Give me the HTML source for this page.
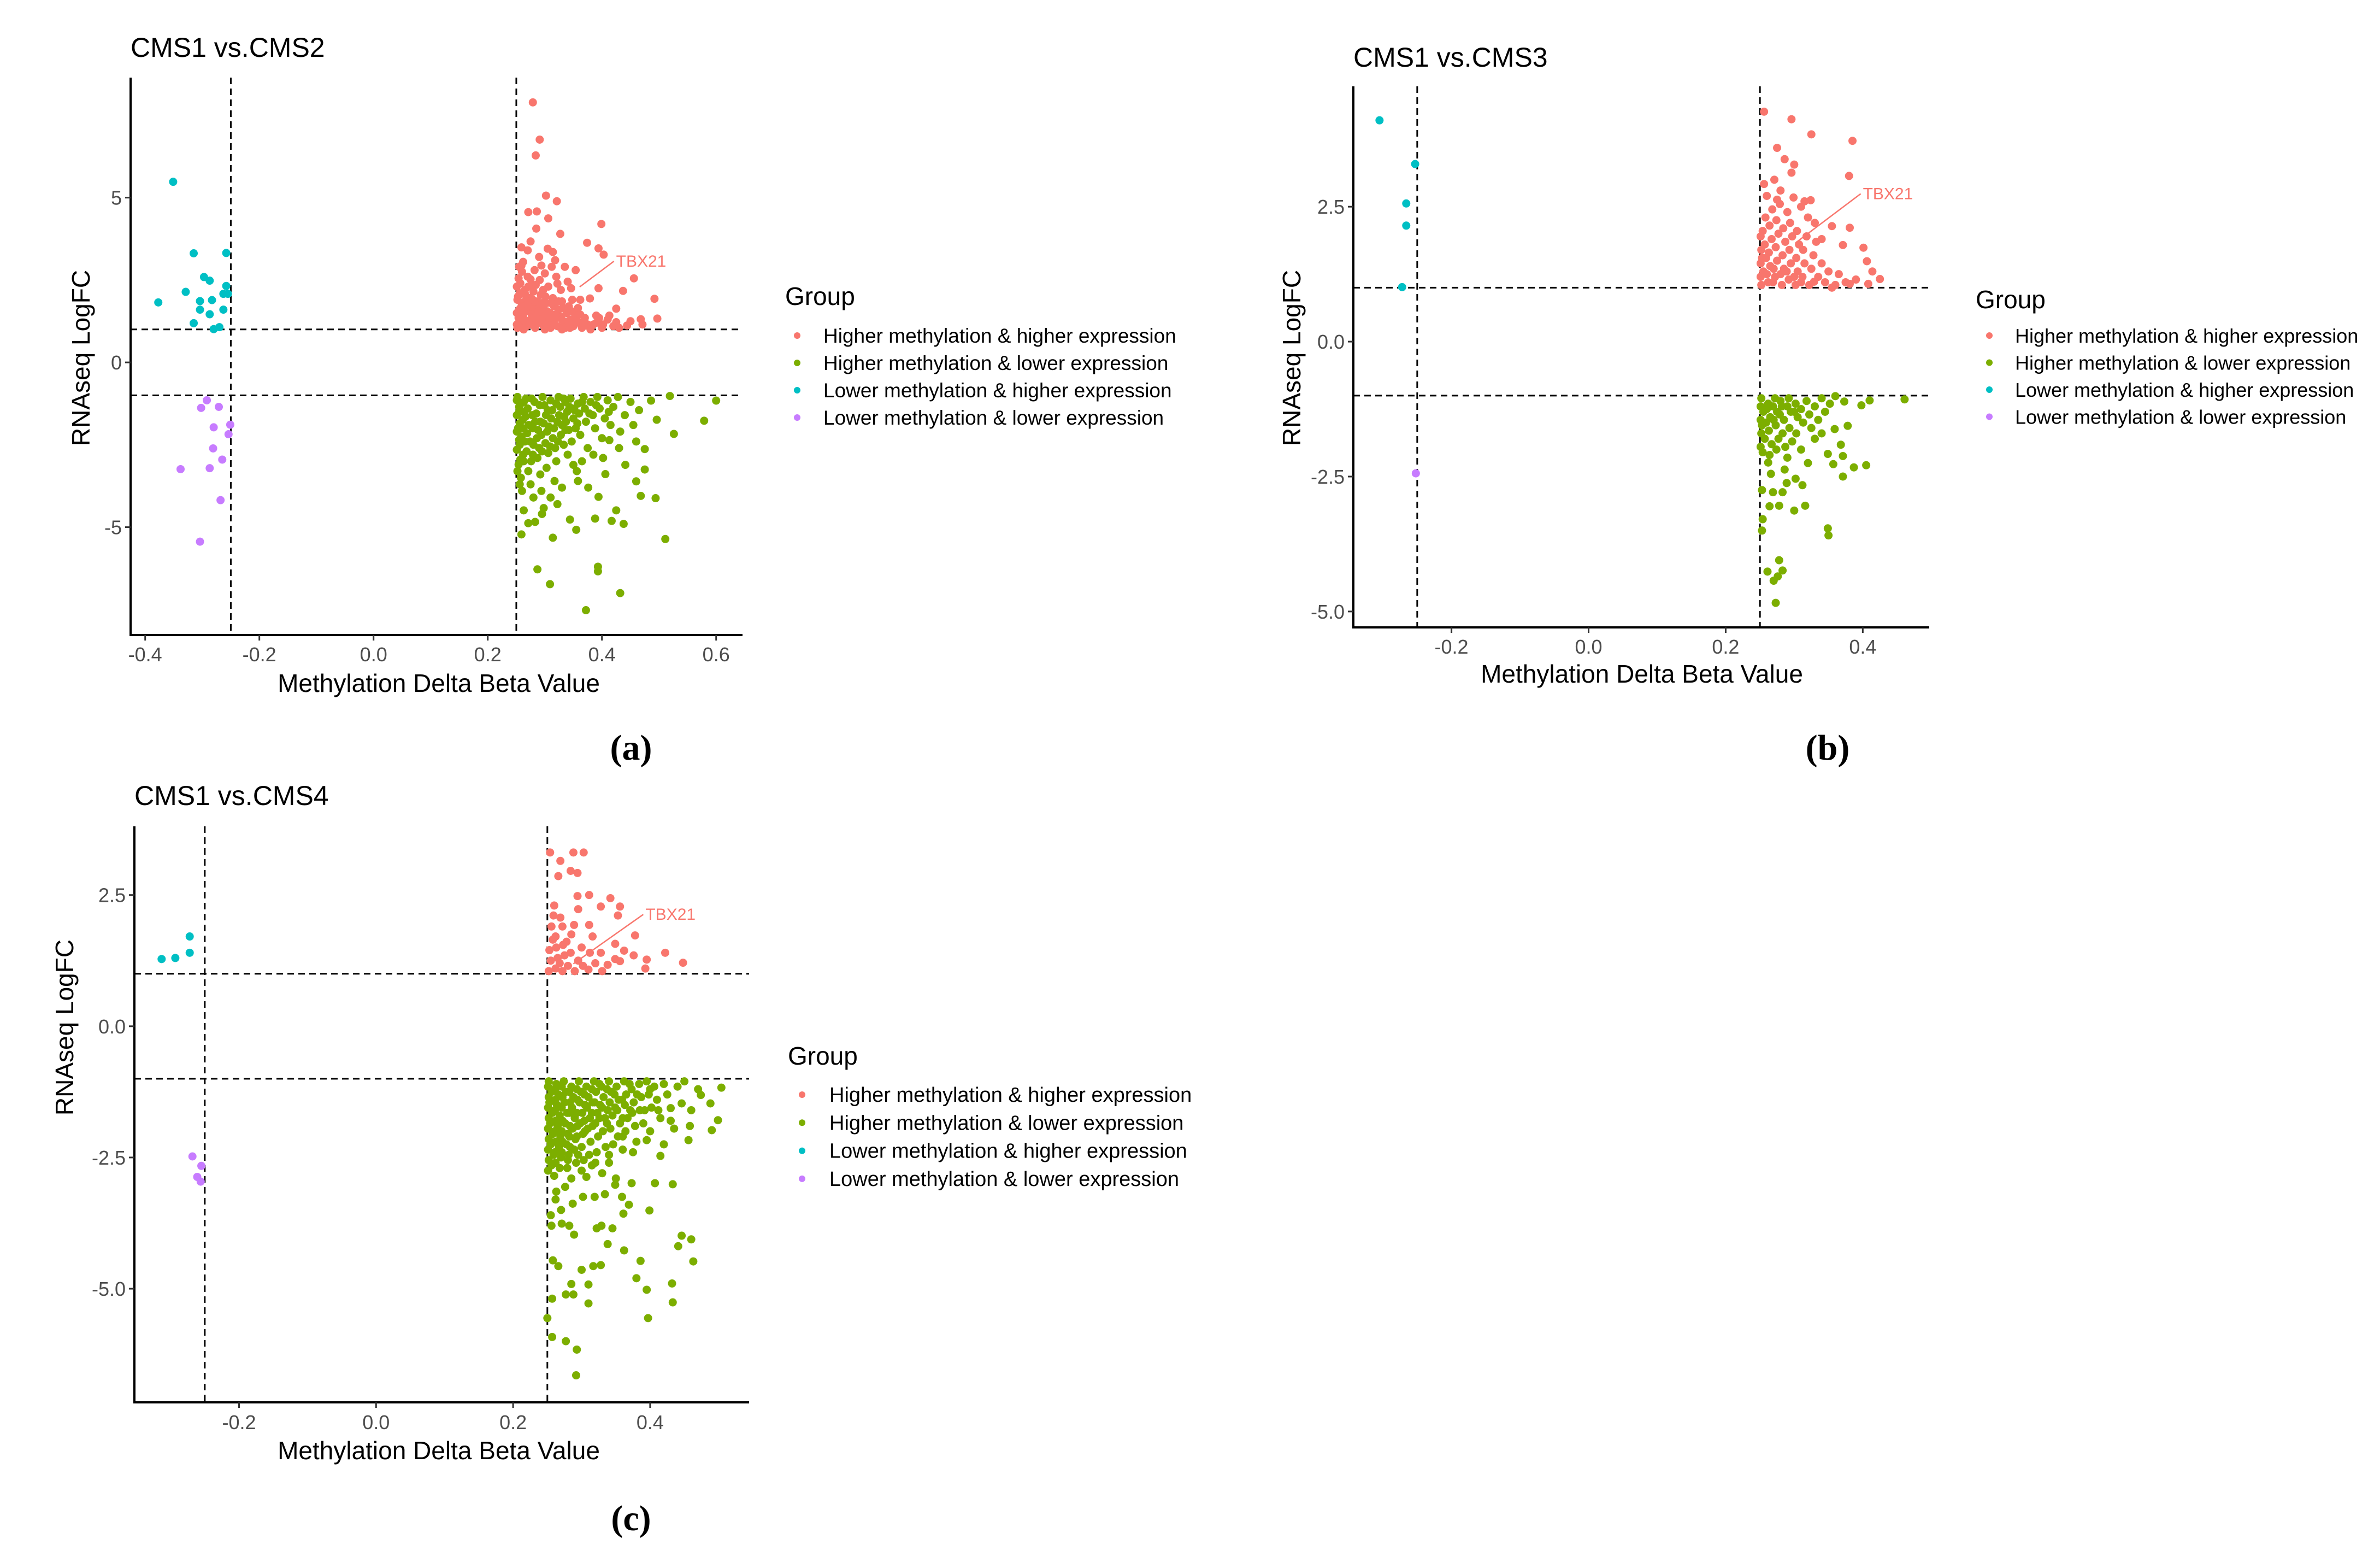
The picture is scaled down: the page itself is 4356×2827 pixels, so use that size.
<!DOCTYPE html>
<html><head><meta charset="utf-8"><style>
html,body{margin:0;padding:0;background:#fff;}
svg{display:block;font-family:"Liberation Sans",sans-serif;}
</style></head><body>
<svg id="fig" width="4356" height="2827" viewBox="0 0 4356 2827" xmlns="http://www.w3.org/2000/svg">
<rect width="4356" height="2827" fill="#fff"/>
<g id="panelA"></g>
<g id="panelB"></g>
<g id="panelC"></g>
<text x="1155" y="1390" font-family="Liberation Serif,serif" font-weight="bold" font-size="66" text-anchor="middle">(a)</text>
<text x="3345" y="1390" font-family="Liberation Serif,serif" font-weight="bold" font-size="66" text-anchor="middle">(b)</text>
<text x="1155" y="2800" font-family="Liberation Serif,serif" font-weight="bold" font-size="66" text-anchor="middle">(c)</text>
</svg>
<script>
// ---------- data ----------
const groupNames = ["Higher methylation & higher expression","Higher methylation & lower expression","Lower methylation & higher expression","Lower methylation & lower expression"];
const groupColors = ["#F8766D","#7CAE00","#00BFC4","#C77CFF"];

const aXTicks = [-0.4,-0.2,0.0,0.2,0.4,0.6];
const aYTicks = [-5,0,5];
const aYTickLabels = ["-5","0","5"];
const aCyan = [[-0.351,5.48],[-0.315,3.31],[-0.258,3.32],[-0.297,2.59],[-0.287,2.48],[-0.329,2.14],[-0.377,1.82],[-0.304,1.86],[-0.283,1.89],[-0.258,2.32],[-0.263,2.08],[-0.304,1.6],[-0.287,1.46],[-0.263,1.6],[-0.315,1.19],[-0.28,1.01],[-0.27,1.07],[-0.255,2.08]];
const aPurple = [[-0.292,-1.15],[-0.302,-1.38],[-0.271,-1.35],[-0.28,-1.97],[-0.251,-1.89],[-0.254,-2.18],[-0.281,-2.61],[-0.265,-2.95],[-0.338,-3.24],[-0.287,-3.21],[-0.268,-4.18],[-0.304,-5.44]];
const aRed = [[0.279,7.89],[0.291,6.76],[0.284,6.28],[0.302,5.06],[0.321,4.89],[0.271,4.56],[0.286,4.58],[0.306,4.37],[0.399,4.2],[0.285,4.06],[0.327,3.9],[0.275,3.67],[0.374,3.63],[0.394,3.46],[0.403,3.27],[0.259,3.49],[0.314,3.35],[0.259,2.94],[0.294,2.94],[0.354,2.8],[0.456,2.55],[0.275,2.52],[0.322,2.39],[0.346,2.25],[0.394,2.25],[0.437,2.17],[0.492,1.93],[0.362,1.9],[0.379,1.94],[0.425,1.63],[0.39,1.42],[0.468,1.31],[0.497,1.33],[0.444,1.12],[0.471,1.15],[0.402,1.15],[0.425,1.22],[0.378,1.08],[0.413,1.42],
[0.252,1.05],[0.258,1.2],[0.262,1.4],[0.255,1.6],[0.26,1.8],[0.253,2.0],[0.265,2.2],[0.257,2.4],[0.27,2.6],[0.268,1.1],[0.275,1.3],[0.272,1.55],[0.278,1.75],[0.274,1.95],[0.28,2.15],[0.276,2.35],[0.283,1.05],[0.288,1.25],[0.285,1.45],[0.29,1.65],[0.287,1.85],[0.293,2.05],[0.291,2.5],[0.296,1.15],[0.3,1.35],[0.298,1.6],[0.303,1.8],[0.301,2.0],[0.306,2.3],[0.31,1.05],[0.313,1.25],[0.309,1.5],[0.316,1.7],[0.314,1.95],[0.32,2.6],[0.322,1.1],[0.326,1.4],[0.324,1.6],[0.33,1.85],[0.328,2.2],[0.334,1.2],[0.338,1.5],[0.336,1.05],[0.342,1.7],[0.345,1.3],[0.35,1.1],[0.348,1.9],[0.355,1.45],[0.36,1.2],[0.365,1.05],[0.358,1.65],[0.37,1.35],[0.375,1.15],[0.263,1.0],[0.3,1.0],[0.33,1.0],[0.38,1.0],[0.39,1.2],[0.4,1.05],[0.41,1.3],[0.42,1.1],[0.255,2.9],[0.262,3.05],[0.282,2.8],[0.3,2.7],[0.29,3.2],[0.305,3.45],[0.318,3.1],[0.335,2.9],[0.34,2.45],[0.312,2.9],[0.27,3.4],[0.256,1.3],[0.264,1.65],[0.281,1.6],[0.295,1.4],[0.307,1.2],[0.319,1.45],[0.332,1.65],[0.344,1.05],[0.352,1.35],[0.267,1.9],[0.284,2.35],[0.297,2.2],
[0.251,1.15],[0.254,1.35],[0.251,1.5],[0.259,1.7],[0.252,1.9],[0.256,2.1],[0.251,2.3],[0.254,2.55],[0.26,2.75],[0.262,1.05],[0.266,1.25],[0.263,1.5],[0.269,1.75],[0.266,2.05],[0.271,2.3],[0.273,1.15],[0.277,1.45],[0.279,1.9],[0.282,1.35],[0.285,1.15],[0.289,1.55],[0.293,1.3],[0.295,1.8],[0.3,1.1],[0.304,1.55],[0.308,1.35],[0.311,1.8],[0.317,1.15],[0.321,1.35],[0.324,1.85],[0.33,1.3],[0.341,1.25],[0.347,1.55],[0.356,1.25],[0.362,1.45],[0.368,1.2],[0.385,1.15],[0.395,1.35],[0.43,1.05],[0.45,1.25]];
const aGreen = [[0.6,-1.16],[0.579,-1.77],[0.519,-1.02],[0.526,-2.17],[0.486,-1.16],[0.496,-1.74],[0.475,-2.63],[0.475,-3.25],[0.46,-3.61],[0.468,-4.05],[0.494,-4.12],[0.511,-5.36],[0.425,-4.49],[0.438,-4.9],[0.417,-4.81],[0.388,-4.74],[0.344,-4.77],[0.355,-5.08],[0.314,-5.32],[0.259,-5.22],[0.287,-6.28],[0.393,-6.2],[0.393,-6.34],[0.309,-6.73],[0.432,-7.0],[0.372,-7.52],[0.271,-4.88],[0.283,-4.84],[0.263,-4.49],[0.298,-4.42],[0.358,-3.6],[0.376,-3.8],[0.394,-4.08],[0.406,-3.39],[0.441,-3.11],[0.46,-2.4],[0.413,-2.36],[0.35,-3.11],[0.33,-3.8],
[0.252,-1.05],[0.258,-1.25],[0.255,-1.5],[0.261,-1.75],[0.253,-2.0],[0.259,-2.25],[0.256,-2.5],[0.262,-2.8],[0.254,-3.1],[0.258,-3.5],[0.26,-3.9],[0.267,-1.1],[0.27,-1.4],[0.266,-1.65],[0.272,-1.9],[0.269,-2.15],[0.274,-2.4],[0.268,-2.7],[0.276,-3.0],[0.271,-3.3],[0.275,-3.7],[0.28,-4.1],[0.282,-1.2],[0.285,-1.55],[0.283,-1.8],[0.288,-2.05],[0.286,-2.3],[0.29,-2.6],[0.287,-2.9],[0.292,-3.4],[0.294,-3.9],[0.296,-1.05],[0.299,-1.3],[0.302,-1.6],[0.298,-1.85],[0.304,-2.1],[0.301,-2.45],[0.306,-2.75],[0.303,-3.2],[0.31,-1.15],[0.313,-1.45],[0.311,-1.7],[0.316,-2.0],[0.314,-2.3],[0.318,-2.6],[0.32,-3.0],[0.317,-3.6],[0.324,-1.05],[0.327,-1.35],[0.325,-1.6],[0.33,-1.9],[0.328,-2.2],[0.333,-2.5],[0.336,-1.2],[0.339,-1.5],[0.337,-1.8],[0.342,-2.05],[0.345,-1.1],[0.348,-1.4],[0.35,-1.7],[0.347,-2.4],[0.354,-2.0],[0.358,-1.25],[0.36,-1.55],[0.362,-2.2],[0.368,-1.05],[0.37,-1.4],[0.372,-1.8],[0.375,-2.6],[0.38,-1.2],[0.384,-1.6],[0.388,-2.0],[0.392,-1.05],[0.396,-1.4],[0.4,-2.3],[0.405,-1.7],[0.41,-1.15],[0.415,-1.9],[0.42,-1.35],[0.428,-1.05],[0.432,-2.1],[0.44,-1.6],[0.45,-1.2],[0.455,-1.9],[0.465,-1.45],[0.34,-2.8],[0.365,-3.0],[0.385,-2.8],[0.31,-4.1],[0.295,-4.6],[0.322,-4.3],[0.356,-3.3],[0.402,-2.9],[0.43,-2.6],
[0.251,-1.15],[0.255,-1.35],[0.251,-1.6],[0.256,-1.85],[0.251,-2.1],[0.255,-2.35],[0.251,-2.65],[0.257,-2.95],[0.252,-3.3],[0.256,-3.7],[0.263,-1.2],[0.264,-1.5],[0.262,-2.0],[0.265,-2.4],[0.263,-3.0],[0.277,-1.1],[0.278,-1.6],[0.279,-2.0],[0.28,-2.5],[0.279,-2.8],[0.291,-1.3],[0.292,-1.8],[0.294,-2.2],[0.295,-2.7],[0.305,-1.45],[0.307,-1.95],[0.309,-2.55],[0.32,-1.25],[0.322,-1.8],[0.323,-2.4],[0.333,-1.1],[0.334,-1.65],[0.336,-2.05],[0.343,-1.35],[0.352,-1.45],[0.357,-1.85],[0.365,-1.2],[0.378,-1.55],[0.39,-1.3],[0.412,-1.5]];
const aLabelPt = [0.361,2.29];
const aLabelPos = [0.421,3.07];

const bXTicks = [-0.2,0.0,0.2,0.4];
const bYTicks = [-5,-2.5,0,2.5];
const bYTickLabels = ["-5.0","-2.5","0.0","2.5"];
const bCyan = [[-0.305,4.1],[-0.253,3.29],[-0.266,2.56],[-0.266,2.15],[-0.272,1.01]];
const bPurple = [[-0.252,-2.44]];
const bRed = [[0.256,4.26],[0.296,4.12],[0.325,3.84],[0.385,3.72],[0.275,3.59],[0.286,3.38],[0.3,3.28],[0.296,3.13],[0.271,3.0],[0.38,3.07],[0.256,2.92],[0.275,2.63],[0.324,2.62],[0.299,2.67],[0.355,2.14],[0.381,2.11],[0.371,1.79],[0.401,1.74],[0.406,1.49],[0.414,1.3],[0.425,1.16],[0.408,1.07],[0.381,1.07],[0.355,1.0],[0.329,1.11],
[0.252,1.05],[0.255,1.3],[0.253,1.55],[0.257,1.8],[0.254,2.05],[0.258,2.3],[0.262,1.1],[0.265,1.4],[0.263,1.65],[0.267,1.9],[0.264,2.15],[0.268,2.45],[0.272,1.2],[0.275,1.5],[0.273,1.75],[0.277,2.0],[0.274,2.25],[0.279,2.55],[0.282,1.05],[0.285,1.35],[0.283,1.6],[0.287,1.85],[0.284,2.1],[0.29,2.4],[0.292,1.15],[0.295,1.45],[0.293,1.7],[0.297,1.95],[0.294,2.2],[0.302,1.05],[0.305,1.3],[0.303,1.55],[0.307,1.8],[0.304,2.05],[0.31,2.5],[0.312,1.2],[0.315,1.45],[0.313,1.7],[0.318,1.95],[0.32,2.3],[0.322,1.05],[0.325,1.35],[0.328,1.6],[0.332,1.85],[0.335,1.2],[0.34,1.45],[0.345,1.1],[0.35,1.3],[0.36,1.05],[0.365,1.25],[0.375,1.1],[0.39,1.15],[0.26,2.7],[0.28,2.8],[0.315,2.6],[0.33,2.2],[0.34,1.9],
[0.251,1.2],[0.251,1.45],[0.252,1.7],[0.251,1.95],[0.26,1.25],[0.259,1.55],[0.27,1.35],[0.269,1.1],[0.28,1.25],[0.289,1.3],[0.3,1.2],[0.31,1.1]];
const bGreen = [[0.461,-1.07],[0.41,-1.09],[0.398,-1.18],[0.378,-1.56],[0.36,-1.01],[0.373,-1.11],[0.359,-1.62],[0.349,-2.08],[0.368,-1.91],[0.371,-2.12],[0.357,-2.27],[0.405,-2.29],[0.387,-2.33],[0.371,-2.5],[0.349,-3.46],[0.35,-3.59],[0.316,-3.04],[0.3,-3.13],[0.302,-2.54],[0.312,-2.66],[0.278,-3.04],[0.264,-3.05],[0.254,-3.29],[0.253,-3.5],[0.261,-4.26],[0.278,-4.05],[0.283,-4.24],[0.276,-4.35],[0.27,-4.43],[0.273,-4.84],[0.253,-2.75],[0.269,-2.79],[0.283,-2.79],[0.289,-2.62],[0.266,-2.45],[0.286,-2.37],[0.262,-2.24],
[0.252,-1.05],[0.255,-1.3],[0.253,-1.55],[0.257,-1.8],[0.254,-2.05],[0.262,-1.15],[0.265,-1.4],[0.263,-1.65],[0.267,-1.9],[0.264,-2.1],[0.272,-1.05],[0.275,-1.3],[0.273,-1.55],[0.277,-1.8],[0.274,-2.0],[0.282,-1.2],[0.285,-1.45],[0.283,-1.7],[0.287,-1.95],[0.292,-1.05],[0.295,-1.3],[0.293,-1.6],[0.297,-1.85],[0.302,-1.15],[0.305,-1.4],[0.303,-1.7],[0.31,-1.25],[0.313,-1.5],[0.318,-1.1],[0.322,-1.35],[0.325,-1.6],[0.33,-1.2],[0.335,-1.45],[0.34,-1.05],[0.345,-1.3],[0.352,-1.15],[0.33,-1.8],[0.31,-2.0],[0.29,-2.15],[0.32,-2.25],[0.34,-1.7],
[0.251,-1.2],[0.251,-1.45],[0.252,-1.7],[0.251,-1.95],[0.26,-1.25],[0.259,-1.5],[0.269,-1.2],[0.27,-1.45],[0.28,-1.1],[0.279,-1.35],[0.29,-1.2],[0.3,-1.3]];
const bLabelPt = [0.302,1.83];
const bLabelPos = [0.397,2.74];

const cXTicks = [-0.2,0.0,0.2,0.4];
const cYTicks = [-5,-2.5,0,2.5];
const cYTickLabels = ["-5.0","-2.5","0.0","2.5"];
const cCyan = [[-0.313,1.28],[-0.293,1.3],[-0.272,1.4],[-0.272,1.71]];
const cPurple = [[-0.268,-2.48],[-0.255,-2.66],[-0.261,-2.87],[-0.256,-2.96]];
const cRed = [[0.254,3.31],[0.288,3.31],[0.303,3.31],[0.269,3.15],[0.284,2.96],[0.294,2.92],[0.266,2.86],[0.294,2.48],[0.311,2.5],[0.342,2.44],[0.328,2.28],[0.356,2.28],[0.353,2.11],[0.295,2.23],[0.259,2.11],[0.269,2.07],[0.289,1.93],[0.311,1.93],[0.316,1.71],[0.378,1.73],[0.262,1.71],[0.278,1.61],[0.422,1.4],[0.448,1.21],[0.395,1.27],[0.393,1.1],[0.362,1.44],[0.376,1.35],[0.349,1.28],[0.328,1.4],[0.312,1.4],[0.302,1.15],[0.338,1.17],[0.356,1.24],[0.349,1.57],
[0.252,1.05],[0.255,1.25],[0.253,1.45],[0.258,1.65],[0.256,1.9],[0.262,1.1],[0.265,1.3],[0.263,1.5],[0.268,1.2],[0.272,1.05],[0.275,1.35],[0.273,1.55],[0.28,1.15],[0.284,1.4],[0.29,1.05],[0.295,1.25],[0.3,1.5],[0.31,1.08],[0.32,1.2],[0.33,1.05],[0.285,1.75],[0.26,2.3],[0.272,1.9]];
const cGreen = [[0.504,-1.17],[0.474,-1.31],[0.488,-1.47],[0.499,-1.79],[0.49,-1.98],[0.458,-1.9],[0.456,-2.17],[0.435,-1.95],[0.43,-1.56],[0.446,-1.47],[0.415,-2.47],[0.433,-3.01],[0.407,-2.99],[0.399,-3.51],[0.373,-2.99],[0.369,-3.4],[0.361,-3.57],[0.349,-3.02],[0.446,-3.99],[0.46,-4.06],[0.441,-4.19],[0.463,-4.48],[0.432,-4.9],[0.433,-5.26],[0.395,-5.02],[0.397,-5.56],[0.38,-4.8],[0.386,-4.47],[0.362,-4.27],[0.338,-4.15],[0.328,-4.55],[0.317,-4.57],[0.3,-4.64],[0.31,-4.92],[0.31,-5.28],[0.288,-5.11],[0.277,-5.11],[0.285,-4.91],[0.257,-5.19],[0.25,-5.56],[0.257,-5.92],[0.277,-6.0],[0.293,-6.16],[0.292,-6.65],[0.258,-4.46],[0.266,-4.57],[0.256,-3.8],[0.271,-3.76],[0.282,-3.8],[0.289,-3.97],[0.287,-3.38],[0.302,-3.25],[0.319,-3.25],[0.322,-3.85],[0.329,-3.8],[0.345,-3.85],[0.334,-3.2],[0.359,-3.25],[0.263,-3.15],[0.276,-3.06],[0.307,-2.87],[0.395,-2.17],[0.375,-2.4],
[0.252,-1.05],[0.256,-1.25],[0.253,-1.45],[0.257,-1.65],[0.254,-1.85],[0.258,-2.05],[0.255,-2.25],[0.259,-2.45],[0.256,-2.65],[0.26,-2.85],[0.263,-1.1],[0.266,-1.3],[0.264,-1.5],[0.268,-1.7],[0.265,-1.9],[0.269,-2.1],[0.267,-2.3],[0.27,-2.5],[0.268,-2.7],[0.274,-1.05],[0.277,-1.25],[0.275,-1.45],[0.279,-1.65],[0.276,-1.85],[0.28,-2.05],[0.278,-2.25],[0.281,-2.45],[0.279,-2.7],[0.285,-1.15],[0.288,-1.35],[0.286,-1.55],[0.29,-1.75],[0.287,-1.95],[0.291,-2.15],[0.289,-2.35],[0.292,-2.6],[0.296,-1.05],[0.299,-1.25],[0.297,-1.45],[0.301,-1.65],[0.298,-1.85],[0.302,-2.05],[0.3,-2.3],[0.303,-2.55],[0.307,-1.15],[0.31,-1.35],[0.308,-1.55],[0.312,-1.75],[0.309,-1.95],[0.313,-2.2],[0.311,-2.45],[0.318,-1.05],[0.321,-1.25],[0.319,-1.45],[0.323,-1.65],[0.32,-1.85],[0.324,-2.1],[0.322,-2.4],[0.329,-1.15],[0.332,-1.35],[0.33,-1.55],[0.334,-1.75],[0.331,-2.0],[0.335,-2.3],[0.34,-1.05],[0.343,-1.25],[0.341,-1.45],[0.345,-1.7],[0.342,-1.95],[0.346,-2.25],[0.351,-1.15],[0.354,-1.4],[0.352,-1.6],[0.356,-1.85],[0.353,-2.1],[0.362,-1.05],[0.365,-1.3],[0.363,-1.5],[0.367,-1.75],[0.364,-2.0],[0.373,-1.2],[0.376,-1.45],[0.374,-1.65],[0.378,-1.9],[0.384,-1.1],[0.387,-1.35],[0.385,-1.6],[0.39,-1.85],[0.395,-1.05],[0.398,-1.3],[0.402,-1.55],[0.406,-1.15],[0.41,-1.4],[0.415,-1.75],[0.42,-1.1],[0.425,-1.3],[0.44,-1.15],[0.45,-1.05],[0.46,-1.6],[0.47,-1.2],[0.36,-2.35],[0.34,-2.6],[0.33,-2.8],[0.35,-2.9],[0.38,-2.2],[0.4,-2.0],[0.42,-2.25],[0.285,-2.9],[0.3,-2.75],[0.315,-2.65],[0.262,-3.3],[0.27,-3.5],[0.255,-3.6],
[0.251,-1.15],[0.252,-1.35],[0.251,-1.55],[0.252,-1.75],[0.251,-1.95],[0.252,-2.15],[0.251,-2.35],[0.252,-2.55],[0.251,-2.75],[0.261,-1.2],[0.262,-1.4],[0.261,-1.6],[0.262,-1.8],[0.261,-2.0],[0.262,-2.2],[0.261,-2.4],[0.262,-2.6],[0.271,-1.15],[0.272,-1.35],[0.271,-1.55],[0.272,-1.8],[0.271,-2.0],[0.272,-2.2],[0.271,-2.4],[0.282,-1.25],[0.283,-1.45],[0.282,-1.65],[0.283,-1.9],[0.282,-2.1],[0.283,-2.3],[0.293,-1.2],[0.294,-1.4],[0.293,-1.65],[0.294,-1.9],[0.293,-2.1],[0.304,-1.3],[0.305,-1.5],[0.304,-1.8],[0.305,-2.0],[0.315,-1.2],[0.316,-1.45],[0.315,-1.65],[0.316,-1.9],[0.326,-1.1],[0.327,-1.5],[0.326,-1.75],[0.337,-1.2],[0.338,-1.6],[0.337,-1.85],[0.348,-1.3],[0.349,-1.55],[0.359,-1.4],[0.36,-1.75],[0.37,-1.1],[0.371,-1.6],[0.381,-1.3],[0.392,-1.6],[0.4,-1.2],[0.412,-1.6],[0.43,-1.8],[0.32,-2.6],[0.34,-2.45],[0.36,-2.1],[0.295,-2.45],[0.28,-2.55]];
const cLabelPt = [0.288,1.19];
const cLabelPos = [0.39,2.13];

// ---------- drawing ----------
const NS = "http://www.w3.org/2000/svg";
function mk(parent, tag, attrs, text){
  const el = document.createElementNS(NS, tag);
  for (const k in attrs) el.setAttribute(k, attrs[k]);
  if (text !== undefined) el.textContent = text;
  parent.appendChild(el);
  return el;
}
function fmtX(v){ return v.toFixed(1); }

function drawPanel(g, geo, d){
  const sx = v => geo.x0 + v * geo.xu;
  const sy = v => geo.y0 - v * geo.yu;
  const t = mk(g, "text", {x: geo.left, y: geo.titleY, "font-size": 50, fill: "#000"}, d.title);
  
  
  [-0.25, 0.25].forEach(v => {
    const l = mk(g, "line", {x1: sx(v), x2: sx(v), y1: geo.top, y2: geo.bottom, stroke: "#000", "stroke-width": 3, "stroke-dasharray": "12 8"});
    
    
  });
  [-1, 1].forEach(v => {
    const l = mk(g, "line", {x1: geo.left, x2: geo.right, y1: sy(v), y2: sy(v), stroke: "#000", "stroke-width": 3, "stroke-dasharray": "12 8"});
    
    
  });
  const sets = [d.red, d.green, d.cyan, d.purple];
  const setNames = ["point-higher-meth-higher-expr","point-higher-meth-lower-expr","point-lower-meth-higher-expr","point-lower-meth-lower-expr"];
  sets.forEach((pts, gi) => {
    pts.forEach(p => {
      const c = mk(g, "circle", {cx: sx(p[0]), cy: sy(p[1]), r: geo.r, fill: groupColors[gi]});
      
      
    });
  });
  const ll = mk(g, "line", {x1: sx(d.labelPt[0]), y1: sy(d.labelPt[1]), x2: sx(d.labelPos[0]), y2: sy(d.labelPos[1]), stroke: "#F8766D", "stroke-width": 2.5});
  
  
  const lt = mk(g, "text", {x: sx(d.labelPos[0]) + 4, y: sy(d.labelPos[1]) + 10, "font-size": 30, fill: "#F8766D"}, "TBX21");
  
  
  const ya = mk(g, "line", {x1: geo.left, x2: geo.left, y1: geo.top, y2: geo.bottom + 2, stroke: "#000", "stroke-width": 4});
  
  
  const xa = mk(g, "line", {x1: geo.left - 2, x2: geo.right, y1: geo.bottom, y2: geo.bottom, stroke: "#000", "stroke-width": 4});
  
  
  d.xTicks.forEach(v => {
    const tk = mk(g, "line", {x1: sx(v), x2: sx(v), y1: geo.bottom, y2: geo.bottom + 10, stroke: "#333", "stroke-width": 3});
    
    
    const tl = mk(g, "text", {x: sx(v), y: geo.xLabY, "font-size": 36, fill: "#4d4d4d", "text-anchor": "middle"}, fmtX(v));
    
    
  });
  d.yTicks.forEach((v, i) => {
    const tk = mk(g, "line", {x1: geo.left - 10, x2: geo.left, y1: sy(v), y2: sy(v), stroke: "#333", "stroke-width": 3});
    
    
    const tl = mk(g, "text", {x: geo.left - 16, y: sy(v) + 13, "font-size": 36, fill: "#4d4d4d", "text-anchor": "end"}, d.yTickLabels[i]);
    
    
  });
  const xt = mk(g, "text", {x: geo.xTitleX, y: geo.xTitleY, "font-size": 46, fill: "#000", "text-anchor": "middle"}, "Methylation Delta Beta Value");
  
  
  const yt = mk(g, "text", {x: 0, y: 0, "font-size": 46, fill: "#000", "text-anchor": "middle", transform: "translate(" + geo.yTitleX + "," + geo.yTitleY + ") rotate(-90)"}, "RNAseq LogFC");
  
  
  const lg = mk(g, "g", {});
  
  
  const gt = mk(lg, "text", {x: geo.legX, y: geo.legY, "font-size": 46, fill: "#000"}, "Group");
  
  
  groupNames.forEach((nm, i) => {
    const cy = geo.legItemY + i * geo.legStep;
    const k = mk(lg, "circle", {cx: geo.legKeyX, cy: cy, r: 6, fill: groupColors[i]});
    
    
    const tx = mk(lg, "text", {x: geo.legTextX, y: cy + 13, "font-size": geo.legFont, fill: "#000"}, nm);
    
    
  });
}

drawPanel(document.getElementById("panelA"),
  {left:239, right:1359, top:142, bottom:1162, x0:683.7, xu:1045, y0:663.1, yu:60.3, r:7.5,
   titleY:104, xLabY:1210, xTitleX:803, xTitleY:1266, yTitleX:164, yTitleY:655,
   legX:1437, legY:558, legKeyX:1459, legTextX:1507, legItemY:614, legStep:50, legFont:37},
  {title:"CMS1 vs.CMS2", red:aRed, green:aGreen, cyan:aCyan, purple:aPurple,
   xTicks:aXTicks, yTicks:aYTicks, yTickLabels:aYTickLabels, labelPt:aLabelPt, labelPos:aLabelPos});

drawPanel(document.getElementById("panelB"),
  {left:2477, right:3531, top:158, bottom:1148, x0:2907.5, xu:1254.6, y0:625.1, yu:98.76, r:7.5,
   titleY:122, xLabY:1196, xTitleX:3005, xTitleY:1249, yTitleX:2380, yTitleY:655,
   legX:3616, legY:564, legKeyX:3641, legTextX:3688, legItemY:614, legStep:49.5, legFont:36},
  {title:"CMS1 vs.CMS3", red:bRed, green:bGreen, cyan:bCyan, purple:bPurple,
   xTicks:bXTicks, yTicks:bYTicks, yTickLabels:bYTickLabels, labelPt:bLabelPt, labelPos:bLabelPos});

drawPanel(document.getElementById("panelC"),
  {left:246, right:1371, top:1512, bottom:2566, x0:688.3, xu:1254, y0:1877.8, yu:96.05, r:7.5,
   titleY:1473, xLabY:2615, xTitleX:803, xTitleY:2670, yTitleX:134, yTitleY:1880,
   legX:1442, legY:1948, legKeyX:1468, legTextX:1518, legItemY:2003, legStep:51.3, legFont:38},
  {title:"CMS1 vs.CMS4", red:cRed, green:cGreen, cyan:cCyan, purple:cPurple,
   xTicks:cXTicks, yTicks:cYTicks, yTickLabels:cYTickLabels, labelPt:cLabelPt, labelPos:cLabelPos});
</script>
</body></html>
